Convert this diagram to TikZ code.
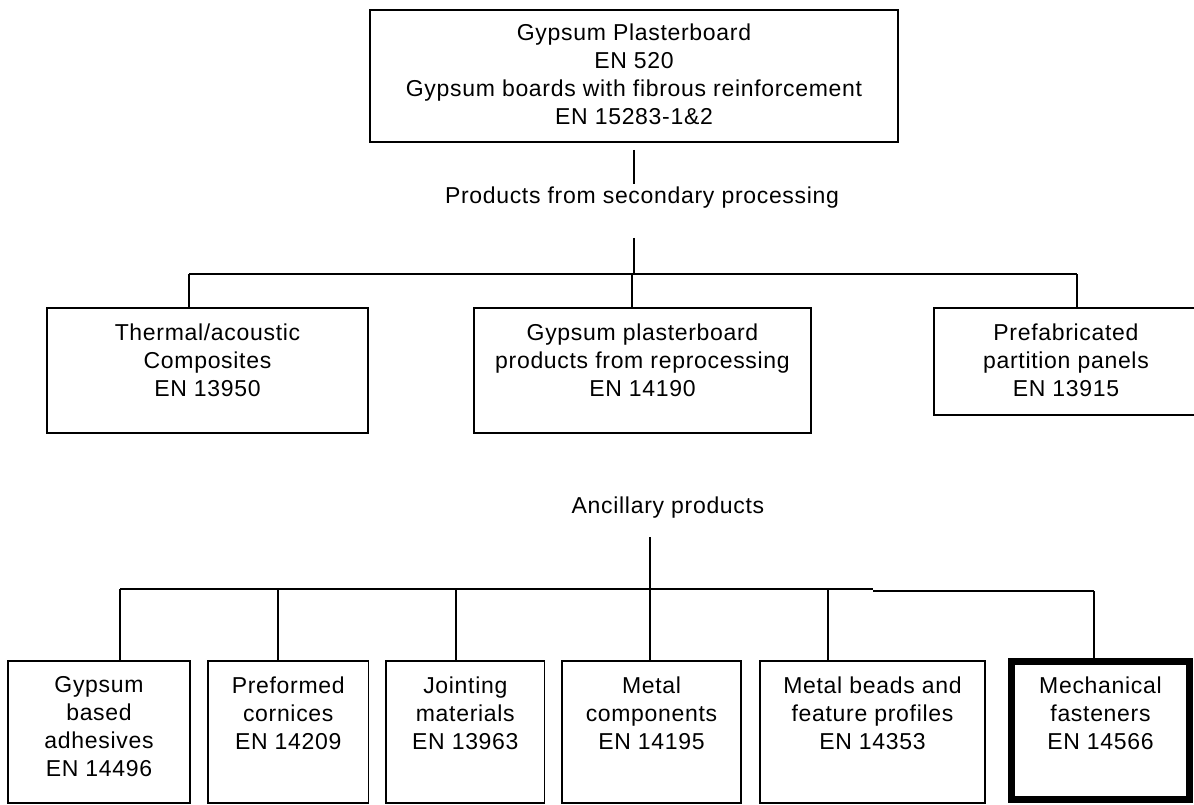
\documentclass[tikz,border=0pt]{standalone}
\usepackage{fontspec}
\setmainfont[LetterSpace=3]{Liberation Sans}
\begin{document}
\begin{tikzpicture}[x=1pt,y=-1pt,
  bx/.style={draw=black, line width=1.4pt, inner sep=0pt, fill=none},
  thickbx/.style={draw=black, line width=7pt, inner sep=0pt},
  ln/.style={draw=black, line width=1.4pt},
  lbl/.style={font=\fontsize{23}{28}\selectfont, align=center, inner sep=0pt}]
\useasboundingbox (0,0) rectangle (1194,805);
% top box
\node[bx, minimum width=528, minimum height=132] (top) at (634,76) {};
\node[lbl, anchor=north] (topT) at (634,23.5) {Gypsum Plasterboard\\EN 520\\Gypsum boards with fibrous reinforcement\\EN 15283-1\&2};
% secondary processing
\coordinate (s1a) at (634,150);
\coordinate (s1b) at (634,184);
\draw[ln] (s1a) -- (s1b);
\node[lbl] (sec) at (642,198) {Products from secondary processing};
\coordinate (s2a) at (634,238);
\coordinate (s2b) at (634,274);
\draw[ln] (s2a) -- (s2b);
% middle row
\node[bx, minimum width=321, minimum height=125] (m1) at (207.5,370.5) {};
\node[bx, minimum width=337, minimum height=125] (m2) at (642.5,370.5) {};
\node[bx, minimum width=272, minimum height=107] (m3) at (1070,361.5) {};
\node[lbl, anchor=north] (m1T) at (207.5,323.5) {Thermal/acoustic\\Composites\\EN 13950};
\node[lbl, anchor=north] (m2T) at (642.5,323.5) {Gypsum plasterboard\\products from reprocessing\\EN 14190};
\node[lbl, anchor=north] (m3T) at (1066,323.5) {Prefabricated\\partition panels\\EN 13915};
\coordinate (c1) at (189,274);
\coordinate (c2) at (632,274);
\coordinate (c3) at (1077,274);
\draw[ln] (c1) -- (c3);
\draw[ln] (c1) -- (c1 |- m1.north);
\draw[ln] (c2) -- (c2 |- m2.north);
\draw[ln] (c3) -- (c3 |- m3.north);
% ancillary
\node[lbl] (anc) at (668,508) {Ancillary products};
\coordinate (a0) at (650,537);
\coordinate (a1) at (650,589);
\draw[ln] (a0) -- (a1);
% bottom row
\node[bx, minimum width=182, minimum height=142] (b1) at (99,732) {};
\node[bx, minimum width=160.5, minimum height=142] (b2) at (288.25,732) {};
\node[bx, minimum width=158.6, minimum height=142] (b3) at (465.3,732) {};
\node[bx, minimum width=179, minimum height=142] (b4) at (651.5,732) {};
\node[bx, minimum width=225, minimum height=142] (b5) at (872.5,732) {};
\node[thickbx, minimum width=178, minimum height=138] (b6) at (1100.5,730.5) {};
\node[lbl, anchor=north] (b1T) at (99,676.5) {Gypsum\\based\\adhesives\\EN 14496};
\node[lbl, anchor=north] (b2T) at (288.25,676.5) {Preformed\\cornices\\EN 14209};
\node[lbl, anchor=north] (b3T) at (465.3,676.5) {Jointing\\materials\\EN 13963};
\node[lbl, anchor=north] (b4T) at (651.5,676.5) {Metal\\components\\EN 14195};
\node[lbl, anchor=north] (b5T) at (872.5,676.5) {Metal beads and\\feature profiles\\EN 14353};
\node[lbl, anchor=north] (b6T) at (1100.5,676.5) {Mechanical\\fasteners\\EN 14566};
\coordinate (d1) at (120,589);
\coordinate (d2) at (278,589);
\coordinate (d3) at (456,589);
\coordinate (d4) at (650,589);
\coordinate (d5) at (828,589);
\coordinate (dk) at (873,589);
\coordinate (dk2) at (873,591);
\coordinate (d6) at (1094,591);
\draw[ln] (d1) -- (dk);
\draw[ln] (dk2) -- (d6);
\draw[ln] (d1) -- (d1 |- b1.north);
\draw[ln] (d2) -- (d2 |- b2.north);
\draw[ln] (d3) -- (d3 |- b3.north);
\draw[ln] (d4) -- (d4 |- b4.north);
\draw[ln] (d5) -- (d5 |- b5.north);
\draw[ln] (d6) -- (d6 |- b6.north);
\end{tikzpicture}
\end{document}
